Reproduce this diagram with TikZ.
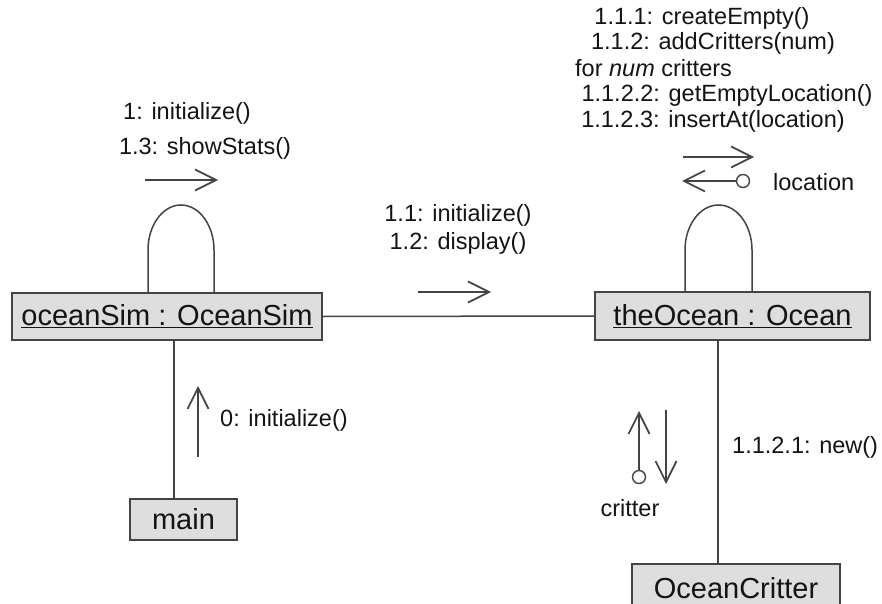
\documentclass[tikz,border=0pt]{standalone}
\usepackage{fontspec}
\setmainfont{Liberation Sans}
\usetikzlibrary{arrows.meta}
\definecolor{boxfill}{HTML}{DEDEDE}
\definecolor{linec}{HTML}{444444}
\definecolor{txt}{HTML}{141414}
\begin{document}
\begin{tikzpicture}[x=1pt,y=-1pt,
  obj/.style={draw=linec, fill=boxfill, line width=1.4pt, rectangle, inner sep=0pt,
    font=\fontsize{29}{31}\selectfont, text=txt},
  lbl/.style={font=\fontsize{23.5}{26}\selectfont, text=txt, inner sep=0pt},
  conn/.style={draw=linec, line width=1.5pt},
  msg/.style={draw=linec, line width=1.5pt, -{Straight Barb[length=21pt,width=21pt,line width=1.7pt]}},
  ret/.style={draw=linec, line width=1.4pt, fill=white}
]
\useasboundingbox[fill=white] (0,0) rectangle (882,604);

% objects
\node[obj, minimum width=310pt, minimum height=47pt] (osim) at (167,316.5) {\underline{oceanSim : OceanSim}};
\node[obj, minimum width=275pt, minimum height=48pt] (ocean) at (732.5,316) {\underline{theOcean : Ocean}};
\node[obj, minimum width=107pt, minimum height=41pt] (main) at (183.5,519.5) {main};
\node[obj, minimum width=208pt, minimum height=48pt] (critter) at (736,588) {OceanCritter};

% links
\draw[conn] (osim.east) -- (ocean.west);
\draw[conn] (osim.south -| 174,0) -- (main.north -| 174,0);
\draw[conn] (ocean.south -| 718,0) -- (critter.north -| 718,0);

% self loops
\draw[conn] (osim.north -| 148,0) -- (148,250) .. controls (148,225.2) and (162.8,205) .. (181,205)
  .. controls (199.2,205) and (214,225.2) .. (214,250) -- (osim.north -| 214,0);
\draw[conn] (ocean.north -| 685,0) -- (685,250) .. controls (685,225.2) and (700,205) .. (718.5,205)
  .. controls (737,205) and (752,225.2) .. (752,250) -- (ocean.north -| 752,0);

% messages oceanSim self
\node[lbl] (m1) at (187,113) {1: initialize()};
\node[lbl] (m13) at (205,148) {1.3: showStats()};
\coordinate (a1s) at (145,180); \coordinate (a1e) at (218,180);
\draw[msg] (a1s) -- (a1e);

% messages oceanSim -> theOcean
\node[lbl] (m11) at (458,215) {1.1: initialize()};
\node[lbl] (m12) at (458,243) {1.2: display()};
\coordinate (a2s) at (418,292); \coordinate (a2e) at (491,292);
\draw[msg] (a2s) -- (a2e);

% main -> oceanSim
\node[lbl, anchor=west] (m0) at (220,420) {0: initialize()};
\coordinate (a3s) at (198,457); \coordinate (a3e) at (198,386);
\draw[msg] (a3s) -- (a3e);

% theOcean self messages
\node[lbl] (m111) at (702,18) {1.1.1: createEmpty()};
\node[lbl] (m112) at (713,43) {1.1.2: addCritters(num)};
\node[lbl, anchor=west] (mfor) at (575,68) {for \textit{num} critters};
\node[lbl] (m1122) at (727,95) {1.1.2.2: getEmptyLocation()};
\node[lbl] (m1123) at (713,121) {1.1.2.3: insertAt(location)};
\coordinate (a4s) at (683,157); \coordinate (a4e) at (754,157);
\draw[msg] (a4s) -- (a4e);
\node[ret, circle, minimum size=13pt, inner sep=0pt] (locc) at (743,181) {};
\coordinate (a5e) at (682,181);
\draw[msg] (locc.west) -- (a5e);
\node[lbl, anchor=west] (loc) at (773,182) {location};

% theOcean -> OceanCritter
\node[lbl, anchor=west] (m1121) at (732,447) {1.1.2.1: new()};
\node[ret, circle, minimum size=13pt, inner sep=0pt] (critc) at (639,477) {};
\coordinate (a6e) at (639,411);
\draw[msg] (critc.north) -- (a6e);
\coordinate (a7s) at (666,410); \coordinate (a7e) at (666,484);
\draw[msg] (a7s) -- (a7e);
\node[lbl] (critl) at (630,508) {critter};
\end{tikzpicture}
\end{document}
